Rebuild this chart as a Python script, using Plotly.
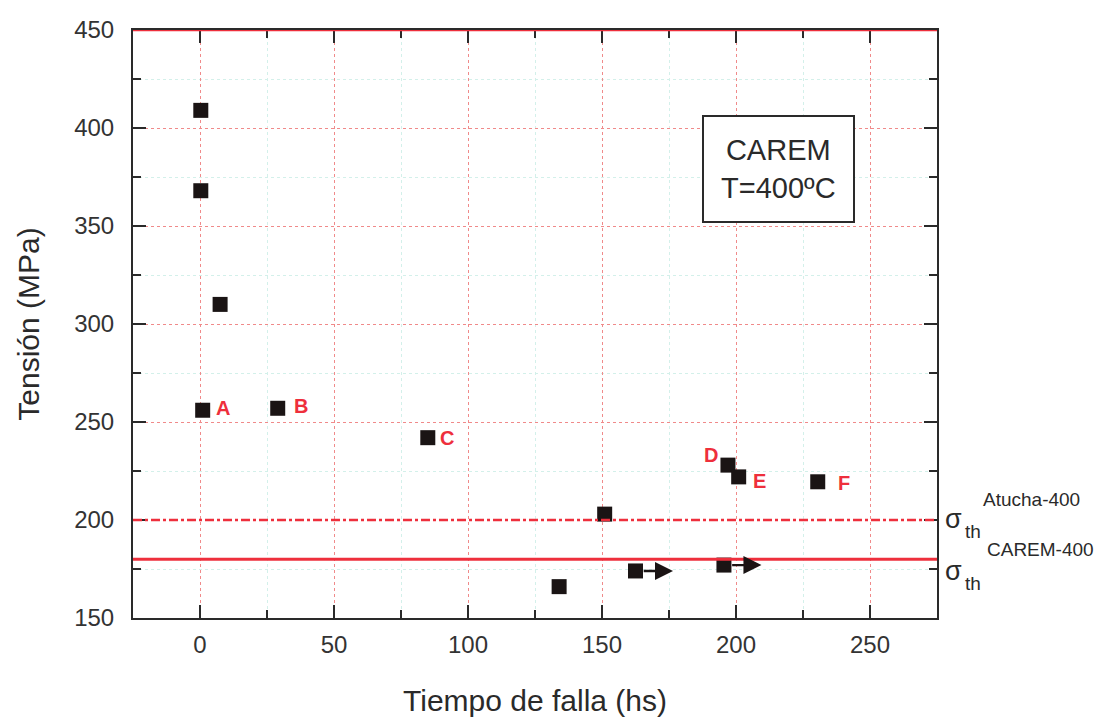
import plotly.graph_objects as go

# Data
tiempo = [0.3, 0.3, 7.5, 1.0, 29.0, 85.0, 151.0, 134.0, 162.5, 195.5, 197.0, 201.0, 230.5]
tension = [409, 368, 310, 256, 257, 242, 203, 166, 174, 177, 228, 222, 219.5]
point_labels = ["", "", "", "A", "B", "C", "", "", "", "", "D", "E", "F"]
runout = [False, False, False, False, False, False, False, False, True, True, False, False, False]

sigma_atucha = 200
sigma_carem = 180

FONT = "Liberation Sans, Arial, sans-serif"
RED = "#ee2f3c"
INK = "#2a2a2a"

fig = go.Figure()

fig.add_trace(go.Scatter(
    x=tiempo, y=tension, mode="markers",
    marker=dict(symbol="square", size=15, color="#1a1414"),
    showlegend=False, cliponaxis=False,
))

# threshold lines
fig.add_hline(y=sigma_atucha, line=dict(color=RED, width=2.5, dash="dashdot"), layer="above")
fig.add_hline(y=sigma_carem, line=dict(color=RED, width=3), layer="above")
# red top border
fig.add_hline(y=450, line=dict(color=RED, width=2.5), layer="above")

# point labels
offsets = {"A": (20, 2), "B": (23, 2), "C": (19, 0), "D": (-17, 10), "E": (21, -4), "F": (26, -1)}
for x, y, lab in zip(tiempo, tension, point_labels):
    if lab:
        dx, dy = offsets[lab]
        fig.add_annotation(x=x, y=y, text=f"<b>{lab}</b>", showarrow=False,
                           xshift=dx, yshift=dy,
                           font=dict(family=FONT, size=20, color=RED))

# run-out arrows
for x, y, r in zip(tiempo, tension, runout):
    if r:
        fig.add_annotation(x=x + 14, y=y, ax=x + 2.5, ay=y, axref="x", ayref="y",
                           xref="x", yref="y", text="", showarrow=True,
                           arrowhead=2, arrowsize=1.5, arrowwidth=2.4,
                           arrowcolor="#1a1414")

# info box
fig.add_annotation(x=216, y=379, xref="x", yref="y",
                   text="CAREM<br>T=400ºC", showarrow=False,
                   font=dict(family=FONT, size=29, color=INK),
                   bordercolor=INK, borderwidth=2, borderpad=17,
                   bgcolor="white", align="center")

# sigma labels at right
def sigma_label(y, name, name_dx, name_dy, sig_dy):
    fig.add_annotation(x=1, xref="paper", y=y, yref="y", text="σ", showarrow=False,
                       xanchor="left", xshift=6, yshift=sig_dy,
                       font=dict(family=FONT, size=27, color=INK))
    fig.add_annotation(x=1, xref="paper", y=y, yref="y", text="th", showarrow=False,
                       xanchor="left", xshift=26, yshift=sig_dy - 12,
                       font=dict(family=FONT, size=19, color=INK))
    fig.add_annotation(x=1, xref="paper", y=y, yref="y", text=name, showarrow=False,
                       xanchor="left", xshift=name_dx, yshift=name_dy,
                       font=dict(family=FONT, size=19, color=INK))

sigma_label(sigma_atucha, "Atucha-400", 44, 21, 1)
sigma_label(sigma_carem, "CAREM-400", 48, 10, -12)

axis_common = dict(
    showline=True, linecolor=INK, linewidth=2, mirror="ticks",
    ticks="inside", ticklen=13, tickwidth=2, tickcolor=INK,
    showgrid=True, gridcolor="#f08a8a", griddash="dot", gridwidth=1.2,
    tickfont=dict(family=FONT, size=24, color="#333333"),
    zeroline=False, automargin=False,
)

fig.update_xaxes(
    range=[-25, 275], tickmode="array", tickvals=[0, 50, 100, 150, 200, 250],
    minor=dict(dtick=25, tick0=0, ticks="inside", ticklen=8, tickwidth=2, tickcolor=INK,
               showgrid=True, gridcolor="#d3f0ea", gridwidth=1),
    ticklabelstandoff=4,
    title=dict(text="Tiempo de falla (hs)", font=dict(family=FONT, size=30, color=INK), standoff=33),
    **axis_common,
)
fig.update_yaxes(
    range=[150, 450], tickmode="array", tickvals=[150, 200, 250, 300, 350, 400, 450],
    minor=dict(dtick=25, tick0=150, ticks="inside", ticklen=8, tickwidth=2, tickcolor=INK,
               showgrid=True, gridcolor="#d3f0ea", gridwidth=1),
    ticklabelstandoff=12,
    title=dict(text="Tensión (MPa)", font=dict(family=FONT, size=30, color=INK), standoff=26),
    **axis_common,
)

fig.update_layout(
    width=1094, height=723,
    margin=dict(l=133, r=157, t=30, b=105),
    plot_bgcolor="white", paper_bgcolor="white",
    showlegend=False,
)

fig.write_html("out.html")
